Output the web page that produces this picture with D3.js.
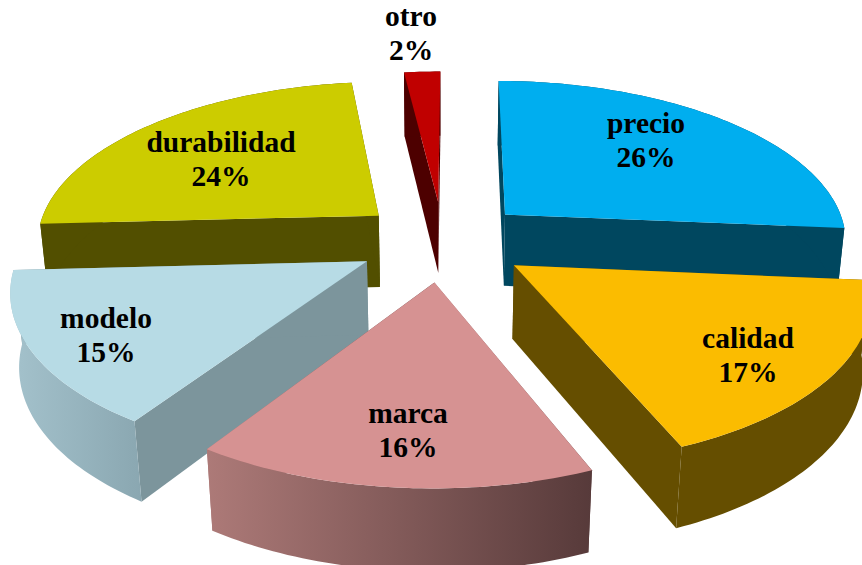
<!DOCTYPE html>
<html>
<head>
<meta charset="utf-8">
<script src="https://cdn.jsdelivr.net/npm/d3@7"></script>
<style>
  html, body { margin: 0; padding: 0; background: #fff; }
  svg { display: block; }
  text { font-family: "Liberation Serif", serif; font-weight: bold; font-size: 29.5px; fill: #000; text-anchor: middle; }
</style>
</head>
<body>
<script>
const categories = ['precio', 'calidad', 'marca', 'modelo', 'durabilidad', 'otro'];
const percents = [26.3, 17.4, 15.5, 14.9, 23.9, 2];

const topColors = ['#00aeef', '#fbbc00', '#d69292', '#b7dbe5', '#cccc00', '#c00000'];
const wallColors = ['#00475f', '#654e00', null, '#7c959c', '#524f00', '#4d0000'];
// outer wall gradients, the others are flat
const wallGradients = { marca: ['#ad7a78', '#573a3a'], modelo: ['#a4c2cc', '#8aa7b1'] };
const labelAnchors = [[646, 135], [748, 350], [408, 425], [106, 330], [221, 154], [411, 28]];
const drawOrder = [5, 4, 0, 3, 1, 2];

const width = 862, height = 565;
const cx = 443, cy = 241, Rx = 344, Ry = 161, H = 74;
const persp = 0.15, perspZ = 0.02, explode = 0.25, startDeg = 0.3;

const svg = d3.select('body').append('svg')
  .attr('width', width)
  .attr('height', height);

const defs = svg.append('defs');
Object.keys(wallGradients).forEach(function(k) {
  const g = defs.append('linearGradient').attr('id', 'wall-' + k);
  g.append('stop').attr('offset', '0%').attr('stop-color', wallGradients[k][0]);
  g.append('stop').attr('offset', '100%').attr('stop-color', wallGradients[k][1]);
});

const pie = d3.pie().sort(null).startAngle(startDeg * Math.PI / 180).endAngle((startDeg + 360) * Math.PI / 180);
const slices = pie(percents);

// world coordinates to screen, z = 0 top face, z = 1 bottom face
function project(X, Y, z) {
  const w = 1 + persp * Y + perspZ * z;
  return [cx + Rx * X / w, cy + (H * z - Ry * Y) / w];
}

const line = d3.line().curve(d3.curveLinearClosed);

function slicePoint(d, a, r, z) {
  const mid = (d.startAngle + d.endAngle) / 2;
  const X = r * Math.sin(a) + explode * Math.sin(mid);
  const Y = r * Math.cos(a) + explode * Math.cos(mid);
  return project(X, Y, z);
}

function arcPoints(d, z) {
  const n = Math.ceil((d.endAngle - d.startAngle) / 0.02);
  return d3.range(n + 1).map(i => slicePoint(d, d.startAngle + (d.endAngle - d.startAngle) * i / n, 1, z));
}

drawOrder.forEach(function(i) {
  const d = slices[i];
  const name = categories[i];
  const g = svg.append('g').attr('class', 'slice').attr('id', 'slice-' + name);
  const wallFill = wallGradients[name] ? 'url(#wall-' + name + ')' : wallColors[i];
  const flat = wallColors[i] || wallFill;

  const tipTop = slicePoint(d, 0, 0, 0), tipBottom = slicePoint(d, 0, 0, 1);
  [d.startAngle, d.endAngle].forEach(function(a) {
    g.append('path')
      .attr('d', line([tipTop, slicePoint(d, a, 1, 0), slicePoint(d, a, 1, 1), tipBottom]))
      .attr('fill', flat);
  });
  g.append('path')
    .attr('d', line(arcPoints(d, 0).concat(arcPoints(d, 1).reverse())))
    .attr('fill', wallFill);
  g.append('path')
    .attr('d', line([tipTop].concat(arcPoints(d, 0))))
    .attr('fill', topColors[i]);
});

categories.forEach(function(name, i) {
  const t = svg.append('text');
  t.append('tspan').attr('x', labelAnchors[i][0]).attr('y', labelAnchors[i][1] - 2).text(name);
  t.append('tspan').attr('x', labelAnchors[i][0]).attr('y', labelAnchors[i][1] + 32).text(Math.round(percents[i]) + '%');
});
</script>
</body>
</html>
